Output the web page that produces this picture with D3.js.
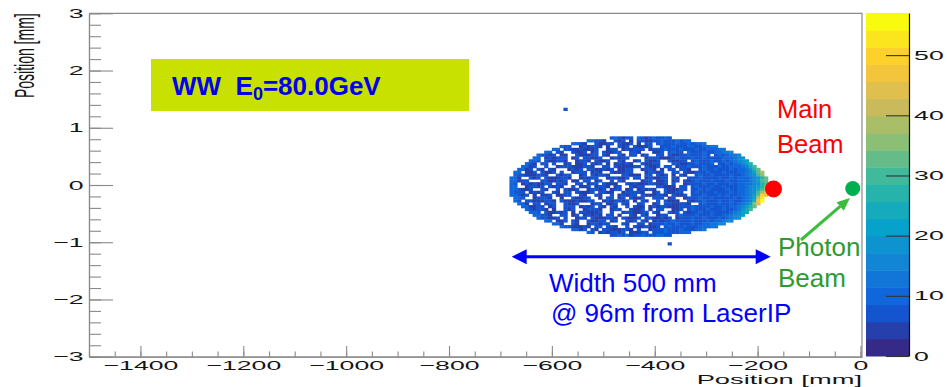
<!DOCTYPE html>
<html><head><meta charset="utf-8">
<script src="https://cdn.jsdelivr.net/npm/d3@7"></script>
<style>
body{margin:0;background:#fff}
svg{display:block}
text{font-family:"Liberation Sans",Arial,Helvetica,sans-serif}
</style>
</head><body>
<svg id="c" width="947" height="387"></svg>
<script>
// ---------------- data ----------------
const xTicks = [-1400, -1200, -1000, -800, -600, -400, -200, 0];
const yTicks = [-3, -2, -1, 0, 1, 2, 3];
const zTicks = [0, 10, 20, 30, 40, 50];
const xDomain = [-1500, 3];
const yDomain = [-3, 3];
const zMax = 57;
const nBands = 20;
const xTitle = "Position [mm]";
const yTitle = "Position [mm]";

// 2D histogram: bins of 7.5 mm (x) by 0.05 mm (y)
const binX0 = -682.5, binW = 7.5;
const binYTop = 0.85, binH = 0.05;
// each cell code = colour band (base-36 digit), 0 = empty bin
const rowStartCol = [26,20,16,13,11,9,7,6,5,4,3,2,1,1,0,0,0,0,0,0,0,1,1,2,3,4,5,6,7,9,11,13,16,20,26];
const rowCells = [
  "2321 2203 2123 2232",
  "33 22100 21201 02211 22322232 33",
  "33 21002 11220 21120 10220 2322232232 334",
  "32 20012 12210 10021 20211 12002 2232223322 3344",
  "33 02211 21112 00122 01212 22012 223222322232 233344",
  "33 02100 21120 12021 12200 22100 01120 232203222322 33445",
  "32 21201 10021 11220 21002 10220 12002 20211 223222320232 3445",
  "33 01212 22012 02211 20012 12200 00122 21112 322232232222 333456",
  "33 20211 22100 12210 21120 02100 12021 12002 11220 2322232232 34567",
  "32 10220 20012 01120 21201 01212 10021 12200 02211 223222302232 34579",
  "33 12002 00122 21112 21002 20211 11220 21120 22012 232223222322 333458a",
  "33 12021 02100 01212 02211 21201 12200 12210 10220 22100 2322322232 33469b",
  "33 01120 21120 20012 22012 10021 11220 00122 12002 20211 222322232223 3457bd",
  "32 21112 21002 12200 12021 22100 02211 10220 21201 02100 232232222322 3456ac",
  "33 10021 20211 12210 01212 20012 21120 22012 11220 21002 223222232232 3334569b",
  "33 12200 02211 21201 10220 12002 02100 00122 01120 12021 232223222322 333457ab",
  "32 01212 11220 22100 22012 20211 10021 21112 21120 20012 222322322232 3344569a",
  "33 00122 12021 21002 01120 12210 12002 12200 02211 10220 232223223222 3345679b",
  "33 21120 02100 20211 20012 21201 22012 01212 10021 11220 223232222322 334568ac",
  "32 22012 12002 10220 21112 02211 00122 22100 12021 12200 232222322232 33456adf",
  "33 21201 01120 11220 02100 21002 01212 20211 12210 21120 222322232322 33457bhg",
  "33 20012 22100 10021 12200 10220 12021 12002 22012 00122 232232222232 3457ei",
  "32 02211 12210 21112 11220 01212 21201 02100 20211 10021 223222322322 3458gj",
  "33 10220 12200 21120 00122 01120 21002 20012 02211 22100 2322232232 3457cf",
  "33 11220 12002 22012 12021 02100 20211 01212 21112 223222232232 334579b",
  "32 12210 10021 20012 22100 12200 21120 10220 01120 232223222322 3468a",
  "33 20211 21201 02211 12002 00122 11220 21002 12021 2232232222 34578",
  "33 22100 22012 01212 10220 10021 02100 12200 232223222322 334567",
  "32 21120 20012 20211 12210 21112 02211 21201 222322322232 3456",
  "33 01120 21002 11220 12002 12021 01212 232222322232 33455",
  "33 10021 00122 12200 02100 22012 223223222322 334455",
  "32 21112 10220 22100 20211 21120 2322232223 3344",
  "33 12021 02211 12210 20012 2232223222 334",
  "32 01212 21201 11220 22232223 33",
  "2232 3122 3222 3322"
];
// isolated bins outside the main blob (col,row on the same grid)
const strayBins = [{col:14,row:-10,code:"2"},{col:41,row:37,code:"2"}];

// ROOT kBird palette
const birdStops = [0.0, 0.125, 0.25, 0.375, 0.5, 0.625, 0.75, 0.875, 1.0];
const birdR = [0.2082, 0.0592, 0.0780, 0.0232, 0.1802, 0.5301, 0.8186, 0.9956, 0.9764];
const birdG = [0.1664, 0.3599, 0.5041, 0.6419, 0.7178, 0.7492, 0.7328, 0.7862, 0.9832];
const birdB = [0.5293, 0.8684, 0.8385, 0.7914, 0.6425, 0.4662, 0.3499, 0.1968, 0.0539];

// annotations
const legendParts = ["WW\u00a0\u00a0E", "0", "=80.0GeV"];
const mainBeamLines = ["Main", "Beam"];
const photonLines = ["Photon", "Beam"];
const widthLines = ["Width 500 mm", "@ 96m from LaserIP"];
const mainBeamPos = {x: -170, y: -0.07};
const photonBeamPos = {x: -15, y: -0.06};

// ---------------- drawing ----------------
const svg = d3.select("#c");
const x = d3.scaleLinear().domain(xDomain).range([89, 862]);
const y = d3.scaleLinear().domain(yDomain).range([356.7, 13.3]);
const z = d3.scaleLinear().domain([0, zMax]).range([356, 13]);

const birdColors = birdStops.map((s, i) =>
  d3.rgb(birdR[i] * 255, birdG[i] * 255, birdB[i] * 255).formatHex());
const palette = d3.scaleLinear().domain(birdStops).range(birdColors)
  .interpolate(d3.interpolateRgb).clamp(true);
const bandW = zMax / nBands;
const bandColor = v => {
  const b = Math.min(nBands - 1, Math.floor(v / bandW));
  return palette(b / (nBands - 1));
};

// cells
const cells = [];
rowCells.forEach((s, r) => {
  const codes = s.replace(/ /g, "");
  for (let i = 0; i < codes.length; i++) {
    const n = parseInt(codes[i], 36);
    if (n > 0) cells.push({col: rowStartCol[r] + i, row: r, count: (n + 0.5) * bandW});
  }
});
strayBins.forEach(b => cells.push({col: b.col, row: b.row, count: (parseInt(b.code, 36) + 0.5) * bandW}));

const heat = svg.append("g");
heat.selectAll("rect").data(cells).join("rect")
  .attr("x", d => x(binX0 + d.col * binW))
  .attr("y", d => y(binYTop - d.row * binH))
  .attr("width", d => x(binX0 + (d.col + 1) * binW) - x(binX0 + d.col * binW) + 0.4)
  .attr("height", d => y(binYTop - (d.row + 1) * binH) - y(binYTop - d.row * binH) + 0.4)
  .attr("fill", d => bandColor(d.count));

// frame
const frameCol = "#8a8a8a";
svg.append("path")
  .attr("d", `M${x.range()[0]},${y.range()[1]}H${x.range()[1]}V${y.range()[0]}`)
  .attr("fill", "none").attr("stroke", frameCol).attr("stroke-width", 1.2);

const fmt = d3.format("d");
const styleAxis = (g, col, lblScale) => {
  g.select(".domain").attr("stroke", col).attr("stroke-width", 1.2);
  g.selectAll(".tick line").attr("stroke", col).attr("stroke-width", 1.1);
  g.selectAll(".tick text").attr("fill", "#151515").attr("font-size", 13)
    .attr("font-family", '"Liberation Sans",Arial,sans-serif')
    .attr("transform", `scale(${lblScale},1)`);
};

// x axis
const xMinor = d3.range(-1500, 1, 50);
svg.append("g").attr("transform", `translate(0,${y.range()[0]})`)
  .call(d3.axisBottom(x).tickValues(xMinor).tickSize(-5.3).tickSizeOuter(0).tickFormat(""))
  .call(g => styleAxis(g, frameCol, 1));
svg.append("g").attr("transform", `translate(0,${y.range()[0]})`)
  .call(d3.axisBottom(x).tickValues(xTicks).tickSize(-10.7).tickSizeOuter(0).tickPadding(4.3).tickFormat(fmt))
  .call(g => styleAxis(g, frameCol, 2.05));

// y axis
const yMinor = d3.range(-30, 31, 2).map(v => v / 10);
svg.append("g").attr("transform", `translate(${x.range()[0]},0)`)
  .call(d3.axisLeft(y).tickValues(yMinor).tickSize(-12).tickSizeOuter(0).tickFormat(""))
  .call(g => styleAxis(g, frameCol, 1));
svg.append("g").attr("transform", `translate(${x.range()[0]},0)`)
  .call(d3.axisLeft(y).tickValues(yTicks).tickSize(-24).tickSizeOuter(0).tickPadding(2.6).tickFormat(fmt))
  .call(g => styleAxis(g, frameCol, 2.05));

// axis titles
svg.append("text")
  .attr("transform", `translate(${x.range()[1]},383.5) scale(2.1,1)`)
  .attr("text-anchor", "end").attr("font-size", 13).attr("fill", "#151515").text(xTitle);
svg.append("text")
  .attr("transform", `translate(34,${y.range()[1]}) scale(2,1) rotate(-90)`)
  .attr("text-anchor", "end").attr("font-size", 14).attr("fill", "#151515").text(yTitle);

// colour bar
const cbX0 = 866, cbX1 = 909;
svg.append("g").selectAll("rect").data(d3.range(nBands)).join("rect")
  .attr("x", cbX0).attr("width", cbX1 - cbX0)
  .attr("y", i => z((i + 1) * bandW)).attr("height", i => z(i * bandW) - z((i + 1) * bandW) + 0.5)
  .attr("fill", i => palette(i / (nBands - 1)));
svg.append("g").attr("transform", `translate(${cbX1},0)`)
  .call(d3.axisRight(z).tickValues(zTicks).tickSize(-23).tickSizeOuter(0).tickPadding(2.5).tickFormat(fmt))
  .call(g => { styleAxis(g, "#333", 2.05); g.select(".domain").attr("stroke", "#111"); });

// legend box
const lg = svg.append("g");
lg.append("rect").attr("x", 151).attr("y", 59).attr("width", 318).attr("height", 52).attr("fill", "#c9e100");
const lt = lg.append("text").attr("x", 172).attr("y", 95).attr("fill", "#0000ee")
  .attr("font-weight", "bold").attr("font-size", 26).style("white-space", "pre");
lt.append("tspan").text(legendParts[0]);
lt.append("tspan").attr("font-size", 18).attr("dy", 5).text(legendParts[1]);
lt.append("tspan").attr("dy", -5).text(legendParts[2]);

// main beam
svg.append("circle").attr("cx", x(mainBeamPos.x) + 0.5).attr("cy", y(mainBeamPos.y)).attr("r", 8.5).attr("fill", "#ff0000");
svg.append("g").selectAll("text").data(mainBeamLines).join("text")
  .attr("x", 777).attr("y", (d, i) => 118 + i * 35).attr("font-size", 25.5).attr("fill", "#ff0000").text(d => d);

// photon beam
svg.append("circle").attr("cx", x(photonBeamPos.x)).attr("cy", y(photonBeamPos.y)).attr("r", 7.5).attr("fill", "#00b050");
svg.append("g").selectAll("text").data(photonLines).join("text")
  .attr("x", 778).attr("y", (d, i) => 256 + i * 31).attr("font-size", 26).attr("fill", "#2f9a2f").text(d => d);
// green arrow
const ga = {x1: 801, y1: 240, x2: 850, y2: 198};
const ang = Math.atan2(ga.y2 - ga.y1, ga.x2 - ga.x1);
const hl = 13, hw = 5.5;
const bx = ga.x2 - hl * Math.cos(ang), by = ga.y2 - hl * Math.sin(ang);
svg.append("line").attr("x1", ga.x1).attr("y1", ga.y1).attr("x2", bx).attr("y2", by)
  .attr("stroke", "#3cbc3c").attr("stroke-width", 3);
svg.append("polygon").attr("fill", "#3cbc3c").attr("points", [
  [ga.x2, ga.y2],
  [bx + hw * Math.sin(ang), by - hw * Math.cos(ang)],
  [bx - hw * Math.sin(ang), by + hw * Math.cos(ang)]
].map(p => p.join(",")).join(" "));

// width double arrow
const wa = {x1: 511.7, x2: 770.7, y: 256.7};
svg.append("line").attr("x1", wa.x1 + 10).attr("x2", wa.x2 - 10).attr("y1", wa.y).attr("y2", wa.y)
  .attr("stroke", "#0000ff").attr("stroke-width", 3);
svg.append("polygon").attr("fill", "#0000ff")
  .attr("points", `${wa.x1},${wa.y} ${wa.x1 + 15},${wa.y - 7.5} ${wa.x1 + 15},${wa.y + 7.5}`);
svg.append("polygon").attr("fill", "#0000ff")
  .attr("points", `${wa.x2},${wa.y} ${wa.x2 - 15},${wa.y - 7.5} ${wa.x2 - 15},${wa.y + 7.5}`);
svg.append("g").selectAll("text").data(widthLines).join("text")
  .attr("x", (d, i) => i === 0 ? 549 : 551).attr("y", (d, i) => 291.7 + i * 30)
  .attr("font-size", 26).attr("fill", "#0000ff").text(d => d);
</script>
</body></html>
